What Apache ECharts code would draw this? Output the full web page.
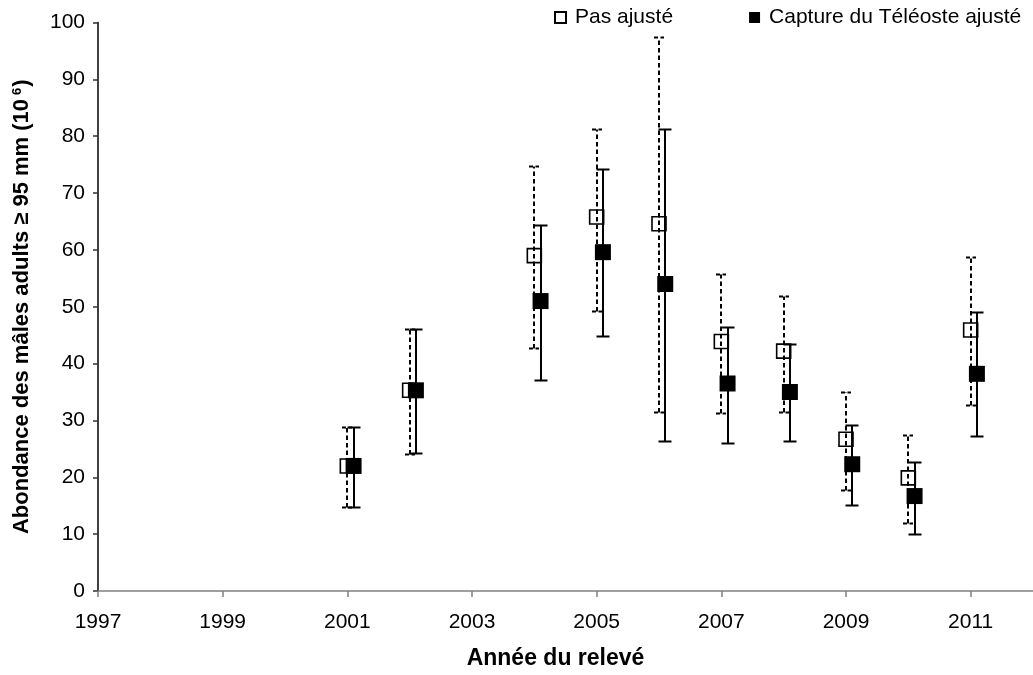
<!DOCTYPE html>
<html><head><meta charset="utf-8">
<script src="https://cdn.jsdelivr.net/npm/echarts@6/dist/echarts.min.js"></script>
<style>html,body{margin:0;padding:0;background:#fff}#chart{width:1033px;height:675px}</style>
</head><body><div id="chart"></div>
<script>
// ---- data ----
const years      = [2001, 2002, 2004, 2005, 2006, 2007, 2008, 2009, 2010, 2011];
const unadjusted = [22.0, 35.3, 59.0, 65.8, 64.6, 43.9, 42.2, 26.7, 19.9, 45.9];
const unadjLow   = [14.7, 24.1, 42.7, 49.2, 31.4, 31.3, 31.4, 17.8, 12.0, 32.7];
const unadjHigh  = [28.8, 46.0, 74.7, 81.3, 97.4, 55.7, 51.9, 35.0, 27.4, 58.7];
const adjusted   = [22.0, 35.3, 51.0, 59.6, 54.0, 36.5, 35.0, 22.3, 16.7, 38.2];
const adjLow     = [14.8, 24.2, 37.2, 44.9, 26.3, 26.0, 26.3, 15.1, 10.0, 27.2];
const adjHigh    = [28.9, 46.1, 64.4, 74.2, 81.3, 46.4, 43.5, 29.2, 22.7, 49.1];
const seriesNames = ['Pas ajusté', 'Capture du Téléoste ajusté'];
const xTitle = 'Année du relevé';
const yTitle = 'Abondance des mâles adults ≥ 95 mm (10{sup|6})';
const adjOffset = 0.1; // adjusted series plotted slightly right of the year

const FONT = '"Liberation Sans", Arial, sans-serif';
const chart = echarts.init(document.getElementById('chart'), null, {renderer: 'canvas'});

function pts(vals, off) { return years.map((y, i) => [y + off, vals[i]]); }
function bars(lows, highs, off) { return years.map((y, i) => [y + off, lows[i], highs[i]]); }

function renderBar(dashed) {
  return function (params, api) {
    const x = api.value(0), lo = api.value(1), hi = api.value(2);
    const p1 = api.coord([x, lo]), p2 = api.coord([x, hi]);
    const cx = Math.round(p1[0]);
    const yl = Math.round(p1[1]) + 0.5, yh = Math.round(p2[1]) + 0.5;
    const half = dashed ? 5 : 6.5;
    const style = {stroke: '#000', lineWidth: 2, fill: null, lineDash: dashed ? [4.5, 3] : null};
    const capStyle = {stroke: '#000', lineWidth: 2, fill: null, lineDash: dashed ? [4, 2.5] : null};
    return {type: 'group', children: [
      {type: 'line', shape: {x1: cx, y1: yl, x2: cx, y2: yh}, style: style},
      {type: 'line', shape: {x1: cx - half, y1: yl, x2: cx + half, y2: yl}, style: capStyle},
      {type: 'line', shape: {x1: cx - half, y1: yh, x2: cx + half, y2: yh}, style: capStyle}
    ]};
  };
}

chart.setOption({
  animation: false,
  backgroundColor: '#fff',
  textStyle: {fontFamily: FONT, color: '#000'},
  grid: {left: 98, right: -5, top: 22.5, bottom: 80.3, containLabel: false},
  legend: {
    left: 549, top: 2, itemWidth: 11, itemHeight: 11, itemGap: 76,
    textStyle: {fontSize: 21, fontFamily: FONT, color: '#000', padding: [0, 0, 0, 4]},
    data: [{name: seriesNames[0], icon: 'rect'}, {name: seriesNames[1], icon: 'rect'}]
  },
  xAxis: {
    type: 'value', min: 1997, max: 2012, interval: 2,
    axisLine: {show: true, onZero: false, lineStyle: {color: '#808080', width: 1.5}},
    axisTick: {show: true, length: 6, lineStyle: {color: '#808080', width: 1.5}},
    splitLine: {show: false},
    axisLabel: {fontSize: 21, color: '#000', margin: 21, showMaxLabel: false, fontFamily: FONT,
      formatter: function (v) { return String(v); }},
    name: xTitle, nameLocation: 'middle', nameGap: 56,
    nameTextStyle: {fontSize: 23, fontWeight: 'bold', color: '#000', fontFamily: FONT, padding: [0, 20, 0, 0]}
  },
  yAxis: {
    type: 'value', min: 0, max: 100, interval: 10,
    axisLine: {show: true, lineStyle: {color: '#000', width: 1.5}},
    axisTick: {show: true, length: 5, lineStyle: {color: '#333', width: 1.5}},
    splitLine: {show: false},
    axisLabel: {fontSize: 21, color: '#000', margin: 13, fontFamily: FONT},
    name: yTitle, nameLocation: 'middle', nameGap: 65, nameRotate: 90,
    nameTextStyle: {
      fontSize: 22, fontWeight: 'bold', color: '#000', fontFamily: FONT,
      rich: {sup: {fontSize: 13, fontWeight: 'bold', verticalAlign: 'top', padding: [0, 1, 0, 4], fontFamily: FONT, color: '#000'}}
    }
  },
  series: [
    {
      name: seriesNames[0], type: 'scatter', z: 1, symbol: 'rect', symbolSize: 14,
      itemStyle: {color: '#fff', borderColor: '#000', borderWidth: 1.6, opacity: 1},
      data: pts(unadjusted, 0)
    },
    {
      type: 'custom', z: 2, renderItem: renderBar(true), encode: {x: 0, y: [1, 2]},
      data: bars(unadjLow, unadjHigh, 0), silent: true
    },
    {
      name: seriesNames[1], type: 'scatter', z: 3, symbol: 'rect', symbolSize: 16,
      itemStyle: {color: '#000', borderColor: '#000', borderWidth: 0, opacity: 1},
      data: pts(adjusted, adjOffset)
    },
    {
      type: 'custom', z: 4, renderItem: renderBar(false), encode: {x: 0, y: [1, 2]},
      data: bars(adjLow, adjHigh, adjOffset), silent: true
    }
  ]
});
</script></body></html>
